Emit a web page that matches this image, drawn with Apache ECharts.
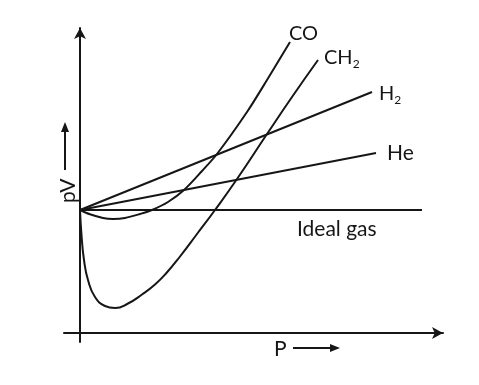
<!DOCTYPE html>
<html>
<head>
<meta charset="utf-8">
<script src="https://cdn.jsdelivr.net/npm/echarts@6/dist/echarts.min.js"></script>
<style>
  html, body { margin: 0; padding: 0; background: #ffffff; }
  #chart { width: 479px; height: 385px; }
</style>
</head>
<body>
<div id="chart"></div>
<script>
// ---- data (P in arbitrary units, pV in arbitrary units) ----
var idealP  = [0, 342];
var idealPV = [123, 123];

var heP  = [0, 296];
var hePV = [123, 180];

var h2P  = [0, 292];
var h2PV = [123, 241];

var coP  = [0, 10, 23, 33, 45, 60, 72, 88, 104, 122, 137, 167, 187, 210];
var coPV = [123, 118.7, 115, 114, 115, 119, 123, 131, 143, 162, 179, 221, 253, 291];

var ch2P  = [0, 1.5, 4, 8, 15, 25, 35, 48, 62, 75, 86, 100, 117, 135, 157, 187, 212, 238];
var ch2PV = [123, 98, 73, 53, 36, 27, 25, 29.5, 38.5, 48.5, 59.5, 76.5, 99, 123, 154, 199, 236, 273];

var seriesNames = ['Ideal gas', 'He', 'H2', 'CO', 'CH2'];

function pairs(xs, ys) {
  var out = [];
  for (var i = 0; i < xs.length; i++) out.push([xs[i], ys[i]]);
  return out;
}

var INK = '#161616';
var FONT = 'Lato';

function lineSeries(name, data, label, smooth) {
  return {
    type: 'line',
    name: name,
    data: data,
    showSymbol: false,
    symbol: 'none',
    smooth: smooth || false,
    lineStyle: { color: INK, width: 2 },
    silent: true,
    endLabel: label
  };
}

var subRich = {
  m: { fontSize: 20, fontFamily: FONT, color: INK, lineHeight: 24 },
  s: { fontSize: 12, fontFamily: FONT, color: INK, lineHeight: 12, verticalAlign: 'bottom' }
};

var chart = echarts.init(document.getElementById('chart'), null, { renderer: 'canvas' });

chart.setOption({
  animation: false,
  backgroundColor: '#ffffff',
  grid: { left: 64, right: 36, top: 28, bottom: 43 },
  xAxis: {
    type: 'value', min: -16, max: 363,
    axisLine: { onZero: true, symbol: ['none', 'arrow'], symbolSize: [9, 11],
      lineStyle: { color: INK, width: 2 } },
    axisTick: { show: false }, axisLabel: { show: false }, splitLine: { show: false }
  },
  yAxis: {
    type: 'value', min: -9, max: 305,
    axisLine: { show: true, onZero: true, symbol: ['none', 'arrow'], symbolSize: [9, 11],
      lineStyle: { color: INK, width: 2 } },
    axisTick: { show: false }, axisLabel: { show: false }, splitLine: { show: false }
  },
  series: [
    lineSeries(seriesNames[0], pairs(idealP, idealPV), {
      show: true, distance: 0, offset: [-125, 19],
      formatter: 'Ideal gas', fontSize: 21, fontFamily: FONT, color: INK
    }),
    lineSeries(seriesNames[1], pairs(heP, hePV), {
      show: true, distance: 0, offset: [11, 0],
      formatter: 'He', fontSize: 21, fontFamily: FONT, color: INK
    }),
    lineSeries(seriesNames[2], pairs(h2P, h2PV), {
      show: true, distance: 0, offset: [7, 2],
      formatter: '{m|H}{s|2}', rich: subRich
    }),
    lineSeries(seriesNames[3], pairs(coP, coPV), {
      show: true, distance: 0, offset: [-1, -8],
      formatter: 'CO', fontSize: 20, fontFamily: FONT, color: INK
    }, 0.3),
    lineSeries(seriesNames[4], pairs(ch2P, ch2PV), {
      show: true, distance: 0, offset: [6, -2],
      formatter: '{m|CH}{s|2}', rich: subRich
    }, 0.5)
  ],
  graphic: [
    // x-axis title "P" with arrow
    { type: 'text', left: 274, top: 339,
      style: { text: 'P', font: '21px Lato', fill: INK } },
    { type: 'line', shape: { x1: 293, y1: 348, x2: 332, y2: 348 },
      style: { stroke: INK, lineWidth: 2 } },
    { type: 'polygon', shape: { points: [[330, 344], [340, 348], [330, 352]] },
      style: { fill: INK } },
    // y-axis title "pV" with arrow (rotated)
    { type: 'text', x: 58, y: 203, rotation: Math.PI / 2,
      style: { text: 'pV', font: '21px Lato', fill: INK } },
    { type: 'line', shape: { x1: 65, y1: 170, x2: 65, y2: 130 },
      style: { stroke: INK, lineWidth: 2 } },
    { type: 'polygon', shape: { points: [[61, 132], [65, 122], [69, 132]] },
      style: { fill: INK } }
  ]
});
</script>
</body>
</html>
